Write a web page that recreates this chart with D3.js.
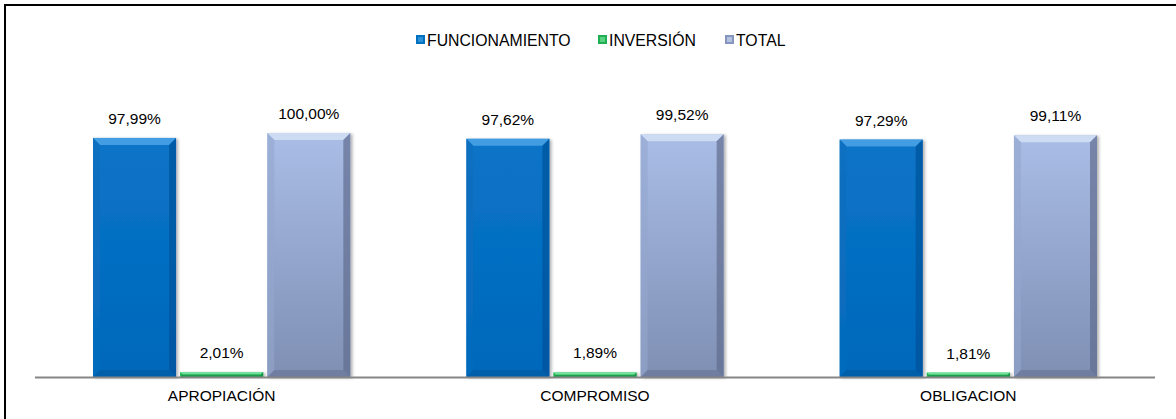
<!DOCTYPE html>
<html><head><meta charset="utf-8">
<script src="https://cdn.jsdelivr.net/npm/d3@7"></script>
<style>body{margin:0;background:#fff}svg{display:block;font-family:"Liberation Sans",Arial,sans-serif}</style>
</head><body><svg id="c" width="1176" height="419"></svg>
<script>
const categories = ["APROPIACIÓN", "COMPROMISO", "OBLIGACION"];
const seriesNames = ["FUNCIONAMIENTO", "INVERSIÓN", "TOTAL"];
const funcionamiento = [97.99, 97.62, 97.29];
const inversion = [2.01, 1.89, 1.81];
const total = [100.00, 99.52, 99.11];
const values = [funcionamiento, inversion, total];

const svg = d3.select("#c");
const defs = svg.append("defs");
const fillCols = [
  {top:"#0a74c8", bot:"#0068bb", hi:"#4ea4e6", lo:"#00539a", side:"#0a6cbd"},
  {top:"#2ec463", bot:"#1fae52", hi:"#7ee8a4", lo:"#12853d", side:"#22b356"},
  {top:"#a9bde6", bot:"#7f8fb4", hi:"#d4e0f6", lo:"#5f6c8e", side:"#95a6cd"}
];
fillCols.forEach((c,i)=>{
  const g = defs.append("linearGradient").attr("id","g"+i).attr("x1",0).attr("y1",0).attr("x2",0).attr("y2",1);
  g.append("stop").attr("offset","0%").attr("stop-color",c.top);
  g.append("stop").attr("offset","100%").attr("stop-color",c.bot);
});
const f = defs.append("filter").attr("id","sh").attr("x","-10%").attr("y","-10%").attr("width","130%").attr("height","130%");
f.append("feDropShadow").attr("dx",2).attr("dy",1).attr("stdDeviation",1.5).attr("flood-color","#000").attr("flood-opacity",0.3);

// frame
svg.append("rect").attr("x",5).attr("y",5).attr("width",1190).attr("height",430)
  .attr("fill","none").attr("stroke","#000").attr("stroke-width",2);

const x0 = d3.scaleBand().domain(categories).range([35,1155]).paddingInner(0).paddingOuter(0);
const x1 = d3.scaleBand().domain(seriesNames).range([58, x0.bandwidth()-58]).paddingInner(0.047);
const y = d3.scaleLinear().domain([0,100]).range([377,133]);

const bw = x1.bandwidth();
categories.forEach((cat,ci)=>{
  seriesNames.forEach((s,si)=>{
    const v = values[si][ci];
    const bx = x0(cat)+x1(s), by = y(v), bh = y(0)-y(v);
    const c = fillCols[si];
    const g = svg.append("g").attr("filter","url(#sh)");
    g.append("rect").attr("x",bx).attr("y",by).attr("width",bw).attr("height",bh).attr("fill","url(#g"+si+")");
    const b = Math.min(7, bh/2, bw/2);
    const pts = (a)=>a.map(p=>p.join(",")).join(" ");
    // top bevel
    g.append("polygon").attr("points",pts([[bx,by],[bx+bw,by],[bx+bw-b,by+b],[bx+b,by+b]])).attr("fill",c.hi).attr("opacity",0.85);
    // left bevel
    g.append("polygon").attr("points",pts([[bx,by],[bx+b,by+b],[bx+b,by+bh-b],[bx,by+bh]])).attr("fill",c.side).attr("opacity",0.6);
    // right bevel
    g.append("polygon").attr("points",pts([[bx+bw,by],[bx+bw-b,by+b],[bx+bw-b,by+bh-b],[bx+bw,by+bh]])).attr("fill",c.lo).attr("opacity",0.7);
    // bottom bevel
    g.append("polygon").attr("points",pts([[bx,by+bh],[bx+b,by+bh-b],[bx+bw-b,by+bh-b],[bx+bw,by+bh]])).attr("fill",c.lo).attr("opacity",0.5);
    svg.append("text").attr("x",bx+bw/2).attr("y",by-14).attr("text-anchor","middle")
      .attr("font-size",15.5).attr("fill","#000")
      .text(v.toFixed(2).replace(".",",")+"%");
  });
});

// axis line
svg.append("line").attr("x1",35).attr("x2",1155).attr("y1",377.5).attr("y2",377.5)
  .attr("stroke","#868686").attr("stroke-width",2);
const ax = svg.append("g").attr("transform","translate(0,377)")
  .call(d3.axisBottom(x0).tickSize(0).tickPadding(13));
ax.select(".domain").remove();
ax.selectAll("text").attr("font-size",15.5).attr("fill","#000").attr("font-family","Liberation Sans, Arial, sans-serif");

// legend
const legX = [416, 598, 725];
const legColors = [["#4ea4e6","#0070c0"],["#7ee8a4","#1fae52"],["#d4e0f6","#8595bd"]];
seriesNames.forEach((s,i)=>{
  const lg = svg.append("g").attr("transform",`translate(${legX[i]},35)`);
  lg.append("rect").attr("width",9).attr("height",9).attr("fill",legColors[i][1]);
  lg.append("rect").attr("x",2).attr("y",2).attr("width",5).attr("height",5).attr("fill",legColors[i][0]).attr("opacity",0.6);
  lg.append("text").attr("x",11).attr("y",10.5).attr("font-size",15.8).attr("fill","#000").text(s);
});
</script></body></html>
